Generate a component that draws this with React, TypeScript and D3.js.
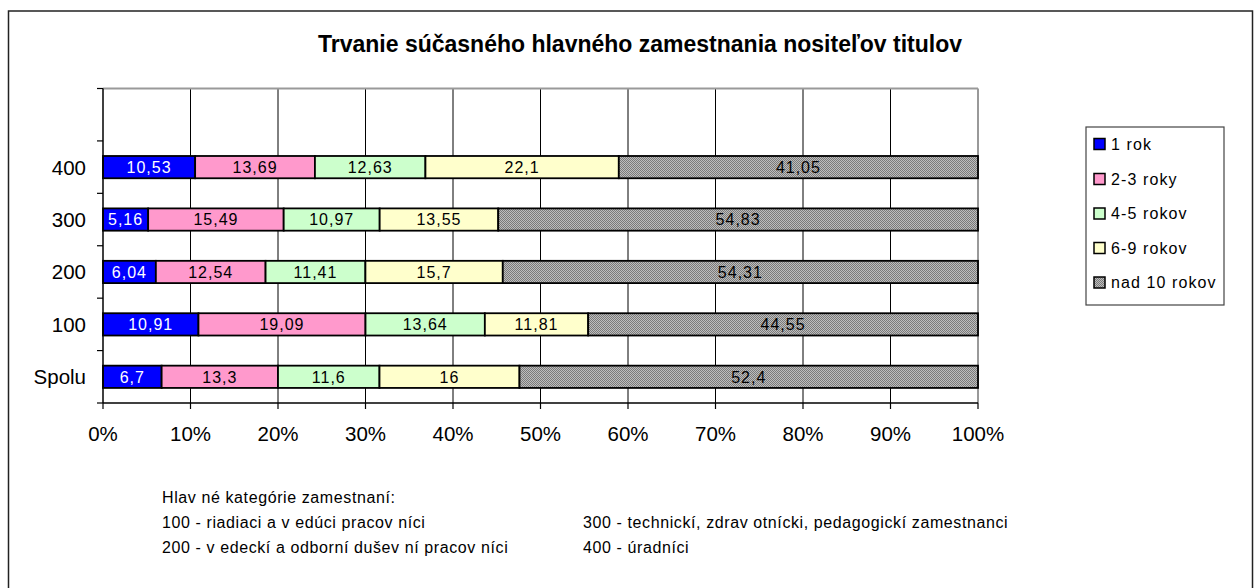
import React from "react";
import * as d3 from "d3";

const title = "Trvanie súčasného hlavného zamestnania nositeľov titulov";
const categories = ["", "400", "300", "200", "100", "Spolu"];
const seriesNames = ["1 rok", "2-3 roky", "4-5 rokov", "6-9 rokov", "nad 10 rokov"];
const seriesColors = ["#0000FF", "#FF99CC", "#CCFFCC", "#FFFFCC", "url(#grayPat)"];
const labelColors = ["#FFFFFF", "#000000", "#000000", "#000000", "#000000"];
const values: Record<string, number[]> = {
  "400": [10.53, 13.69, 12.63, 22.1, 41.05],
  "300": [5.16, 15.49, 10.97, 13.55, 54.83],
  "200": [6.04, 12.54, 11.41, 15.7, 54.31],
  "100": [10.91, 19.09, 13.64, 11.81, 44.55],
  Spolu: [6.7, 13.3, 11.6, 16, 52.4],
};
const xTicks = [0, 10, 20, 30, 40, 50, 60, 70, 80, 90, 100];
const footHeader = "Hlav né kategórie zamestnaní:";
const footLeft = ["100 - riadiaci a v edúci pracov níci", "200 - v edeckí a odborní dušev ní pracov níci"];
const footRight = ["300 - technickí, zdrav otnícki, pedagogickí zamestnanci", "400 - úradníci"];

const FONT = "'Liberation Sans', Arial, sans-serif";

export default function App() {
  const W = 1254, H = 588;
  const left = 103, right = 978, top = 88.5, bottom = 403;
  const x = d3.scaleLinear().domain([0, 100]).range([left, right]);
  const y = d3.scaleBand<string>().domain(categories).range([top, bottom]).paddingInner(0.575).paddingOuter(0.2875);
  const step = y.step();
  const boundaries = d3.range(categories.length + 1).map((i) => top + i * step);
  const fmt = (v: number) => String(v).replace(".", ",");

  const legendX = 1086, legendY = 127, legendW = 138, legendH = 178;
  const legendRows = [144, 179, 213.5, 248, 282.5];

  return (
    <svg width={W} height={H} style={{ position: "absolute", left: 0, top: 0, fontFamily: FONT }}>
      <defs>
        <pattern id="grayPat" width="2" height="2" patternUnits="userSpaceOnUse">
          <rect width="2" height="2" fill="#bdbdbd" />
          <rect width="1" height="1" fill="#7a7a7a" />
          <rect x="1" y="1" width="1" height="1" fill="#7a7a7a" />
        </pattern>
      </defs>
      <rect x={0} y={0} width={W} height={H} fill="#fff" />
      <rect x={8.5} y={11} width={1244} height={590} fill="none" stroke="#222" strokeWidth={1.5} />
      <text x={640} y={52} textAnchor="middle" fontWeight="bold" fontSize={23} fill="#000">
        {title}
      </text>

      {/* gridlines */}
      {xTicks.slice(1, -1).map((t) => (
        <line key={"g" + t} x1={x(t)} x2={x(t)} y1={top} y2={bottom} stroke="#000" strokeWidth={1} />
      ))}
      {/* plot top/right border */}
      <line x1={left} x2={right} y1={top} y2={top} stroke="#999" strokeWidth={2} />
      <line x1={right} x2={right} y1={top} y2={bottom} stroke="#999" strokeWidth={2} />

      {/* bars */}
      {categories.filter((c) => values[c]).map((c) => {
        const vals = values[c];
        let acc = 0;
        return (
          <g key={c}>
            {vals.map((v, i) => {
              const x0 = x(acc);
              acc += v;
              const x1 = x(acc);
              return (
                <rect key={i} x={x0} y={y(c)!} width={x1 - x0} height={y.bandwidth()} fill={seriesColors[i]} stroke="#000" strokeWidth={1.8} />
              );
            })}
          </g>
        );
      })}
      {categories.filter((c) => values[c]).map((c) => {
        const vals = values[c];
        let acc = 0;
        return (
          <g key={"l" + c}>
            {vals.map((v, i) => {
              const mid = x(acc + v / 2);
              acc += v;
              return (
                <text key={i} x={mid} y={y(c)! + y.bandwidth() / 2 + 5.8} textAnchor="middle" fontSize={16} letterSpacing={1} fill={labelColors[i]}>
                  {fmt(v)}
                </text>
              );
            })}
          </g>
        );
      })}

      {/* axes */}
      <line x1={left} x2={left} y1={top} y2={bottom} stroke="#000" strokeWidth={1.5} />
      <line x1={left} x2={right} y1={bottom} y2={bottom} stroke="#000" strokeWidth={1.5} />
      {boundaries.map((b, i) => (
        <line key={"yt" + i} x1={left - 6} x2={left} y1={b} y2={b} stroke="#000" strokeWidth={1.2} />
      ))}
      {xTicks.map((t) => (
        <line key={"xt" + t} x1={x(t)} x2={x(t)} y1={bottom} y2={bottom + 6} stroke="#000" strokeWidth={1.2} />
      ))}
      {categories.map((c) => (
        <text key={"cl" + c} x={86} y={y(c)! + y.bandwidth() / 2 + 7.5} textAnchor="end" fontSize={20.5} fill="#000">
          {c}
        </text>
      ))}
      {xTicks.map((t) => (
        <text key={"xl" + t} x={x(t)} y={441} textAnchor="middle" fontSize={20.5} fill="#000">
          {t + "%"}
        </text>
      ))}

      {/* legend */}
      <rect x={legendX} y={legendY} width={legendW} height={legendH} fill="#fff" stroke="#444" strokeWidth={1.2} />
      {seriesNames.map((s, i) => (
        <g key={"lg" + i}>
          <rect x={1094} y={legendRows[i] - 5.5} width={11} height={11} fill={seriesColors[i]} stroke="#000" strokeWidth={1.5} />
          <text x={1111} y={legendRows[i] + 5.5} fontSize={16} letterSpacing={1.1} fill="#000">
            {s}
          </text>
        </g>
      ))}

      {/* footnote */}
      <text x={162} y={503} fontSize={16} letterSpacing={0.6} fill="#000">{footHeader}</text>
      {footLeft.map((t, i) => (
        <text key={"fl" + i} x={162} y={528 + i * 24.5} fontSize={16} letterSpacing={0.6} fill="#000">{t}</text>
      ))}
      {footRight.map((t, i) => (
        <text key={"fr" + i} x={583} y={528 + i * 24.5} fontSize={16} letterSpacing={0.6} fill="#000">{t}</text>
      ))}
    </svg>
  );
}
